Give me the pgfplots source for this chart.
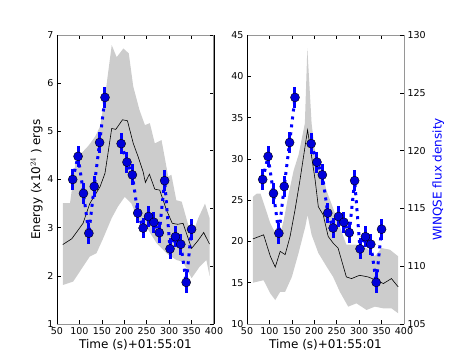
\documentclass[border=0pt]{standalone}
\usepackage{fontspec}
\setmainfont{DejaVu Sans}
\usepackage{pgfplots}
\pgfplotsset{compat=1.18}

\definecolor{band}{RGB}{204,204,204}
\definecolor{spine}{RGB}{150,150,150}
\definecolor{mplblue}{RGB}{0,0,255}

\pgfplotsset{
  panel/.style={
    at={#1}, anchor=south west, scale only axis, width=157pt, height=289pt,
    xmin=50, xmax=400, xtick={50,100,...,400},
    tick align=inside, major tick length=4pt,
    tick style={black, line width=0.5pt},
    separate axis lines,
    x axis line style={spine, line width=1pt},
    y axis line style={black, line width=0.6pt},
    ticklabel style={font=\fontsize{9.5}{10}\selectfont},
    label style={font=\fontsize{12}{14}\selectfont},
    /pgf/number format/assume math mode=true,
    xlabel={Time (s)+01:55:01},
    xlabel style={yshift=2pt},
  },
  twin/.style={
    at={#1}, anchor=south west, scale only axis, width=157pt, height=289pt,
    xmin=50, xmax=400, ymin=105, ymax=130, ytick={105,110,...,130},
    axis x line=none, axis y line*=right,
    y axis line style={spine, line width=1pt},
    tick align=inside, major tick length=4pt,
    tick style={black, line width=0.5pt},
    ticklabel style={font=\fontsize{9.5}{10}\selectfont},
    label style={font=\fontsize{12}{14}\selectfont},
    /pgf/number format/assume math mode=true,
  },
  winq/.style={mplblue, line width=3pt, dash pattern=on 3pt off 5pt,
    mark=*, mark size=4.5pt,
    mark options={solid, fill=mplblue!85!black, draw=black, line width=0.4pt},
    error bars/.cd, y dir=both, y fixed=0.9,
    error bar style={solid, line width=3pt, mplblue}, error mark=none},
}

\begin{document}
\begin{tikzpicture}
\path[use as bounding box] (0,0) rectangle (450pt,360pt);

% ---------------- left panel ----------------
\begin{axis}[panel={(57pt,36pt)}, ymin=1, ymax=7, ytick={1,...,7}, ytick pos=left,
  ylabel={Energy (x10$^{24}$ ) ergs}, ylabel style={yshift=-2pt}]
\addplot[fill=band, draw=none] coordinates {
 (63,3.51) (79,3.51) (84,3.85) (91,4.35) (105,4.55) (120,4.70) (135,4.89) (146,5.10)
 (157,5.72) (172,6.79) (183,6.54) (198,6.72) (210,6.62) (220,5.93) (234,5.44)
 (246,5.13) (257,5.17) (268,4.75) (283,4.82) (298,4.06) (305,4.10) (316,3.57)
 (328,3.54) (350,2.81) (365,3.20) (380,3.50) (390,3.20)
 (390,2.00) (383,2.33) (368,2.19) (350,1.95) (331,2.29) (316,2.33) (294,2.47)
 (272,2.68) (249,3.02) (231,3.16) (216,3.50) (201,3.64) (186,3.44) (172,3.20)
 (153,2.78) (138,2.47) (123,2.40) (108,2.19) (86,1.88) (63,1.81)
} -- cycle;
\addplot[black, line width=0.6pt] coordinates {
 (63,2.65) (83,2.77) (108,3.09) (123,3.50) (146,3.85) (157,4.13) (172,5.06)
 (181,5.04) (196,5.24) (207,5.22) (220,4.75) (231,4.47) (242,4.16) (247,3.94)
 (256,4.11) (268,3.80) (279,3.78) (294,3.37) (307,3.09) (319,3.07) (331,3.09)
 (350,2.57) (365,2.74) (377,2.90) (390,2.66)
};
\end{axis}
\begin{axis}[twin={(57pt,36pt)}, yticklabels={}]
\addplot[winq] coordinates {
 (85,117.5) (97,119.5) (109,116.3) (121,112.85) (133,116.9) (145,120.7) (157,124.6)
};
\addplot[winq] coordinates {
 (193,120.6) (206,119.0) (218,117.9) (230,114.6) (242,113.3) (254,114.3)
 (266,113.8) (278,112.9) (290,117.4) (302,111.5) (314,112.55) (326,111.9)
 (338,108.6) (350,113.2)
};
\end{axis}

% ---------------- right panel ----------------
\begin{axis}[panel={(247pt,36pt)}, ymin=10, ymax=45, ytick={10,15,...,45}, ytick pos=left]
\addplot[fill=band, draw=none] coordinates {
 (63,25.4) (72,25.8) (80,25.8) (102,22.2) (117,20.6) (121,20.2) (132,22.6)
 (143,25.8) (154,28.6) (165,30.5) (179,34.3) (184.5,43.4) (194,34.3) (202,30.7)
 (212,29.9) (227,26.2)
 (249,23.0) (271.5,19.6) (294,19.6) (316.5,19.2) (335,18.2) (350,19.2)
 (368.5,19.0) (387,18.2)
 (387,11.3) (372,11.9) (353.6,11.9) (335,12.1) (316.5,11.7) (294,12.5)
 (275.6,12.1) (257,13.9) (242,15.7) (228,16.9) (209,18.6) (194,20.8)
 (185,23.2) (180,21.8) (165,18.6) (150,15.7) (135,13.9) (124,13.9)
 (113,12.9) (102,13.7) (87,15.3) (63,15.0)
} -- cycle;
\addplot[black, line width=0.6pt] coordinates {
 (63,20.3) (87,20.8) (102,18.2) (113,16.9) (124,18.8) (135,18.4) (146,20.6)
 (157,23.8) (168,27.4) (185,33.5) (194,30.3) (202,27.4) (209,24.2) (220,23.2)
 (231,20.6) (242,19.8) (253,19.2) (271.5,15.7) (283,15.5) (301,15.9)
 (320,15.7) (338,15.3) (354,14.9) (372,15.5) (387,14.5)
};
\end{axis}
\begin{axis}[twin={(247pt,36pt)}, ylabel={WINQSE flux density},
  ylabel style={mplblue}]
\addplot[winq] coordinates {
 (85,117.5) (97,119.5) (109,116.3) (121,112.85) (133,116.9) (145,120.7) (157,124.6)
};
\addplot[winq] coordinates {
 (193,120.6) (206,119.0) (218,117.9) (230,114.6) (242,113.3) (254,114.3)
 (266,113.8) (278,112.9) (290,117.4) (302,111.5) (314,112.55) (326,111.9)
 (338,108.6) (350,113.2)
};
\end{axis}
\end{tikzpicture}
\end{document}
